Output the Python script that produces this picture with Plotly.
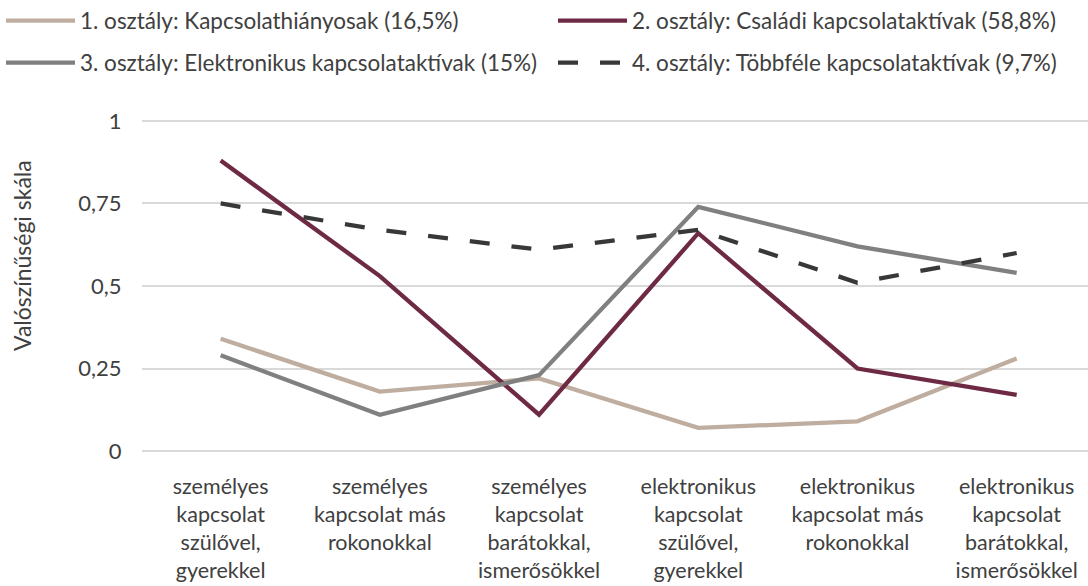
import plotly.graph_objects as go

categories = [
    "személyes<br>kapcsolat<br>szülővel,<br>gyerekkel",
    "személyes<br>kapcsolat más<br>rokonokkal",
    "személyes<br>kapcsolat<br>barátokkal,<br>ismerősökkel",
    "elektronikus<br>kapcsolat<br>szülővel,<br>gyerekkel",
    "elektronikus<br>kapcsolat más<br>rokonokkal",
    "elektronikus<br>kapcsolat<br>barátokkal,<br>ismerősökkel",
]
series_names = [
    "1. osztály: Kapcsolathiányosak (16,5%)",
    "2. osztály: Családi kapcsolataktívak (58,8%)",
    "3. osztály: Elektronikus kapcsolataktívak (15%)",
    "4. osztály: Többféle kapcsolataktívak (9,7%)",
]
class1 = [0.34, 0.18, 0.22, 0.07, 0.09, 0.28]
class2 = [0.88, 0.53, 0.11, 0.66, 0.25, 0.17]
class3 = [0.29, 0.11, 0.23, 0.74, 0.62, 0.54]
class4 = [0.75, 0.67, 0.61, 0.67, 0.51, 0.60]
y_ticks = [0, 0.25, 0.5, 0.75, 1]
y_ticktext = ["0", "0,25", "0,5", "0,75", "1"]

colors = ["#BFAE9F", "#6E2A44", "#808080", "#383838"]
dashes = ["solid", "solid", "solid", "20px,22px"]
legend_ids = ["legend", "legend2", "legend3", "legend4"]

FONT = "Lato, 'Open Sans', sans-serif"
TXT = "#404040"

x = list(range(len(categories)))
fig = go.Figure()
for name, vals, c, d, lg in zip(series_names, [class1, class2, class3, class4], colors, dashes, legend_ids):
    fig.add_trace(go.Scatter(
        x=x, y=vals, mode="lines", name=name,
        line=dict(color=c, width=4.3, dash=d),
        legend=lg, hoverinfo="skip", showlegend=True,
    ))

W, H = 1088, 586
ml, mr, mt, mb = 142, 0, 119, 133
pw = W - ml - mr
ph = H - mt - mb

leg_common = dict(
    orientation="h", xref="container", yref="container", xanchor="left", yanchor="middle",
    font=dict(family=FONT, size=22.5, color=TXT), bgcolor="rgba(0,0,0,0)",
    itemwidth=69, visible=True,
)
OFF = 9
leg_pos = {
    "legend": (10 - OFF, 21),
    "legend2": (562 - OFF, 21),
    "legend3": (10 - OFF, 63),
    "legend4": (562 - OFF, 63),
}
legend_layout = {
    k: dict(x=px / W, y=1 - py / H, **leg_common) for k, (px, py) in leg_pos.items()
}

fig.update_layout(
    width=W, height=H,
    showlegend=True,
    margin=dict(l=ml, r=mr, t=mt, b=mb, autoexpand=False),
    paper_bgcolor="white", plot_bgcolor="white",
    font=dict(family=FONT, size=21, color=TXT),
    **legend_layout,
    xaxis=dict(
        range=[-0.494, 5.448], tickvals=x, ticktext=categories,
        showgrid=False, zeroline=False, showline=False,
        ticks="outside", ticklen=14, tickcolor="rgba(0,0,0,0)",
        tickfont=dict(family=FONT, size=21.5, color=TXT), fixedrange=True,
        automargin=False,
    ),
    yaxis=dict(
        range=[-0.006, 1.006], tickvals=y_ticks, ticktext=y_ticktext,
        showgrid=True, gridcolor="#D9D9D9", gridwidth=1.6,
        zeroline=False, showline=False,
        ticks="outside", ticklen=15, tickcolor="rgba(0,0,0,0)",
        tickfont=dict(family=FONT, size=22, color=TXT), fixedrange=True,
        automargin=False,
    ),
    annotations=[dict(
        text="Valószínűségi skála", textangle=-90,
        xref="paper", yref="paper",
        x=(22 - ml) / pw, y=(H - mb - 256) / ph,
        xanchor="center", yanchor="middle", showarrow=False,
        font=dict(family=FONT, size=23, color=TXT),
    )],
)

fig.write_html(
    "out.html",
    config={"displayModeBar": False},
    post_script="document.body.style.margin='0';document.body.style.padding='0';",
)
